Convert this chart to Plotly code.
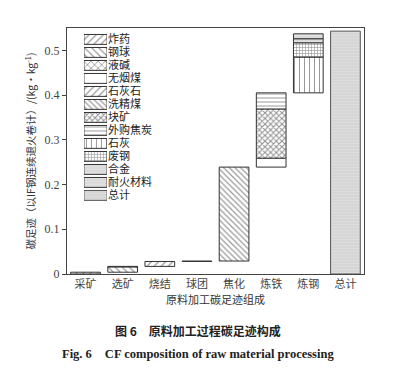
import plotly.graph_objects as go

stages = ["采矿", "选矿", "烧结", "球团", "焦化", "炼铁", "炼钢", "总计"]

# contributions per stage (kg/kg)
zhayao   = [0.004, 0, 0, 0, 0, 0, 0, 0]        # 炸药
gangqiu  = [0, 0.012, 0, 0, 0, 0, 0, 0]        # 钢球
yejian   = [0, 0.001, 0, 0, 0, 0, 0, 0]        # 液碱
wuyanmei = [0, 0, 0, 0.001, 0, 0.020, 0, 0]    # 无烟煤
shihuishi = [0, 0, 0.011, 0, 0, 0, 0, 0]       # 石灰石
xijingmei = [0, 0, 0, 0, 0.210, 0, 0, 0]       # 洗精煤
kuaikuang = [0, 0, 0, 0, 0, 0.110, 0, 0]       # 块矿
jiaotan  = [0, 0, 0, 0, 0, 0.036, 0, 0]        # 外购焦炭
shihui   = [0, 0, 0, 0, 0, 0, 0.080, 0]        # 石灰
feigang  = [0, 0, 0, 0, 0, 0, 0.032, 0]        # 废钢
hejin    = [0, 0, 0, 0, 0, 0, 0.009, 0]        # 合金
naihuo   = [0, 0, 0, 0, 0, 0, 0.011, 0]        # 耐火材料
zongji   = [0, 0, 0, 0, 0, 0, 0, 0.543]        # 总计

series_names = ["炸药", "钢球", "液碱", "无烟煤", "石灰石", "洗精煤", "块矿",
                "外购焦炭", "石灰", "废钢", "合金", "耐火材料", "总计"]
series_vals = [zhayao, gangqiu, yejian, wuyanmei, shihuishi, xijingmei, kuaikuang,
               jiaotan, shihui, feigang, hejin, naihuo, zongji]

y_tickvals = [0, 0.1, 0.2, 0.3, 0.4, 0.5]
y_ticktext = ["0", "0.1", "0.2", "0.3", "0.4", "0.5"]

# styles
DARK = "#333333"
styles = {
    "炸药":   dict(shape="/", bg="white", fg=DARK, size=5, sol=0.25),
    "钢球":   dict(shape="\\", bg="white", fg=DARK, size=5, sol=0.25),
    "液碱":   dict(shape="x", bg="white", fg=DARK, size=5, sol=0.3),
    "无烟煤": dict(shape="", bg="white", fg=DARK, size=5, sol=0.3),
    "石灰石": dict(shape="/", bg="white", fg=DARK, size=5, sol=0.25),
    "洗精煤": dict(shape="\\", bg="white", fg=DARK, size=4, sol=0.3),
    "块矿":   dict(shape="x", bg="white", fg="#222222", size=4, sol=0.45),
    "外购焦炭": dict(shape="-", bg="white", fg=DARK, size=4, sol=0.25),
    "石灰":   dict(shape="|", bg="white", fg=DARK, size=5, sol=0.2),
    "废钢":   dict(shape="+", bg="white", fg="#222222", size=3, sol=0.35),
    "合金":   dict(shape="-", bg="#dadada", fg="#ececec", size=3, sol=0.3),
    "耐火材料": dict(shape="-", bg="#dadada", fg="#ececec", size=3, sol=0.3),
    "总计":   dict(shape="-", bg="#d6d6d6", fg="#e6e6e6", size=3, sol=0.3),
}


def marker_for(name):
    st = styles[name]
    return dict(
        color=st["bg"],
        line=dict(color="#555555" if name == "总计" else DARK, width=1),
        pattern=dict(shape=st["shape"], fgcolor=st["fg"], bgcolor=st["bg"],
                     size=st["size"], solidity=st["sol"], fillmode="overlay"),
    )


# waterfall bases
n = len(stages)
bases = [[None] * n for _ in series_vals]
running = 0.0
for i, st in enumerate(stages):
    if st == "总计":
        b = 0.0
        for k, vals in enumerate(series_vals):
            if vals[i]:
                bases[k][i] = b
                b += vals[i]
        continue
    for k, vals in enumerate(series_vals):
        if vals[i]:
            bases[k][i] = running
            running += vals[i]

fig = go.Figure()
for k, (name, vals) in enumerate(zip(series_names, series_vals)):
    xs, ys, bs = [], [], []
    for i in range(n):
        if vals[i]:
            xs.append(stages[i]); ys.append(vals[i]); bs.append(bases[k][i])
    if not xs:
        continue
    fig.add_trace(go.Bar(
        x=xs, y=ys, base=bs, name=name, width=0.8, showlegend=False,
        marker=marker_for(name),
    ))

# legend drawn as swatches on an inset axis
for name in series_names:
    fig.add_trace(go.Bar(
        x=[1], y=[name], base=[0], orientation="h", width=0.76,
        xaxis="x2", yaxis="y2", showlegend=False, hoverinfo="skip",
        marker=marker_for(name),
    ))

SERIF = "Liberation Serif, Noto Sans CJK SC"
CJK = "Noto Sans CJK SC"

fig.update_layout(
    width=394, height=371,
    margin=dict(l=67, r=30, t=28, b=97, autoexpand=False),
    paper_bgcolor="white", plot_bgcolor="white",
    barmode="overlay",
    showlegend=False,
    xaxis=dict(
        categoryorder="array", categoryarray=stages,
        range=[-0.5, 7.5], automargin=False,
        showline=True, mirror=True, linecolor="#444444", linewidth=1,
        ticks="", tickfont=dict(family=CJK, size=11, color="#444444"),
        title=dict(text="原料加工碳足迹组成", font=dict(family=CJK, size=11, color="#333333"), standoff=2),
        showgrid=False,
    ),
    yaxis=dict(
        range=[0, 0.55], tickvals=y_tickvals, ticktext=y_ticktext, automargin=False,
        showline=True, mirror=True, linecolor="#444444", linewidth=1,
        ticks="outside", ticklen=4, tickcolor="#444444",
        tickfont=dict(family=SERIF, size=12, color="#444444"),
        title=dict(text="碳足迹（以IF钢连续退火卷计）/(kg·kg<sup>-1</sup>)",
                   font=dict(family=CJK, size=10.5, color="#333333"), standoff=6),
        showgrid=False, zeroline=False,
    ),
    xaxis2=dict(domain=[0.057, 0.135], anchor="y2", range=[0, 1], visible=False),
    yaxis2=dict(
        domain=[0.293, 0.980], anchor="x2", side="right", automargin=False,
        categoryorder="array", categoryarray=series_names,
        tickmode="array", tickvals=series_names, ticktext=series_names,
        range=[12.5, -0.5],
        showline=False, showgrid=False, zeroline=False, ticks="",
        tickfont=dict(family=CJK, size=11, color="#222222"),
    ),
    annotations=[
        dict(text="<b>图 6　原料加工过程碳足迹构成</b>", xref="paper", yref="paper",
             x=0.44, y=-0.228, xanchor="center", yanchor="middle", showarrow=False,
             font=dict(family=CJK, size=12, color="#222222")),
        dict(text="<b>Fig. 6　CF composition of raw material processing</b>", xref="paper", yref="paper",
             x=0.44, y=-0.325, xanchor="center", yanchor="middle", showarrow=False,
             font=dict(family="Liberation Serif", size=12.5, color="#222222")),
    ],
)

fig.write_html("out.html", config={"displayModeBar": False},
               post_script="document.body.style.margin='0';")
